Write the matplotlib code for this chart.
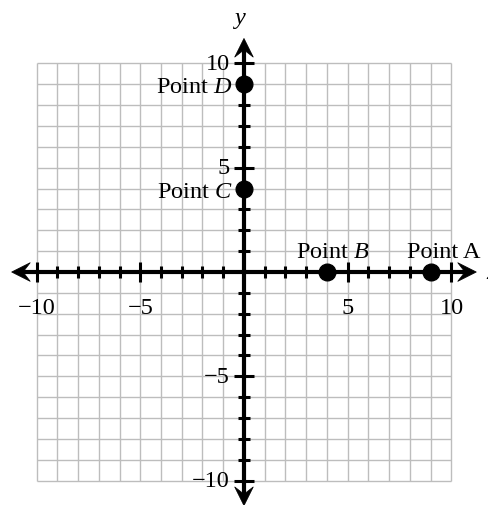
import matplotlib
matplotlib.use("Agg")
import matplotlib.pyplot as plt
from matplotlib.patches import Polygon
import numpy as np

plt.rcParams['font.family'] = ['Liberation Serif', 'DejaVu Serif']
plt.rcParams['mathtext.fontset'] = 'custom'
plt.rcParams['mathtext.rm'] = 'Liberation Serif'
plt.rcParams['mathtext.it'] = 'Liberation Serif:italic'

# Data
point_names = ["Point A", "Point $B$", "Point $C$", "Point $D$"]
point_x = [9, 4, 0, 0]
point_y = [0, 0, 4, 9]
tick_values = [-10, -5, 5, 10]
tick_labels = ["\u221210", "\u22125", "5", "10"]
grid_min, grid_max = -10, 10

fig = plt.figure(figsize=(4.89, 5.06), dpi=100)
ax = fig.add_axes([0, 0, 1, 1])
ax.set_xlim(-11.76, 11.81)
ax.set_ylim(-11.17, 13.09)
ax.axis('off')

# grid
g = np.arange(grid_min, grid_max + 1)
ax.vlines(g, grid_min, grid_max, color='#bdbdbd', lw=1.0, zorder=1)
ax.hlines(g, grid_min, grid_max, color='#bdbdbd', lw=1.0, zorder=1)

# axes
L = 11.2
ax.plot([-L + 0.5, L - 0.5], [0, 0], color='black', lw=3.0, zorder=3, solid_capstyle='butt')
ax.plot([0, 0], [-L + 0.5, L - 0.5], color='black', lw=3.0, zorder=3, solid_capstyle='butt')

def head(tip, direction):
    hl, hw, notch = 0.9, 0.45, 0.55
    dx, dy = direction
    px, py = -dy, dx
    tx, ty = tip
    pts = [(tx, ty),
           (tx - dx * hl + px * hw, ty - dy * hl + py * hw),
           (tx - dx * notch, ty - dy * notch),
           (tx - dx * hl - px * hw, ty - dy * hl - py * hw)]
    ax.add_patch(Polygon(pts, closed=True, color='black', zorder=4, lw=0.5))

head((L, 0), (1, 0))
head((-L, 0), (-1, 0))
head((0, L), (0, 1))
head((0, -L), (0, -1))

# ticks
for v in range(grid_min, grid_max + 1):
    if v == 0:
        continue
    h = 0.48 if v % 5 == 0 else 0.28
    ax.plot([v, v], [-h, h], color='black', lw=2.2, zorder=3, solid_capstyle='butt')
    ax.plot([-h, h], [v, v], color='black', lw=2.2, zorder=3, solid_capstyle='butt')

fs = 17.5
for v, lab in zip(tick_values, tick_labels):
    ax.text(v, -1.68, lab, ha='center', va='center', fontsize=fs, zorder=5)
    ax.text(-0.68, v, lab, ha='right', va='center', fontsize=fs, zorder=5)

# points
ax.plot(point_x, point_y, 'o', color='black', ms=12, zorder=6)

label_pos = {
    "Point A": (9.65, 1.0, 'center'),
    "Point $B$": (4.3, 1.0, 'center'),
    "Point $C$": (-0.55, 3.85, 'right'),
    "Point $D$": (-0.55, 8.9, 'right'),
}
for name in point_names:
    x, y, ha = label_pos[name]
    ax.text(x, y, name, ha=ha, va='center', fontsize=fs, zorder=5)

ax.text(-0.2, 12.1, "$y$", ha='center', va='center', fontsize=fs)
ax.text(11.65, 0.0, "$x$", ha='left', va='center', fontsize=fs)

fig.savefig("out.png", dpi=100, facecolor='white')
